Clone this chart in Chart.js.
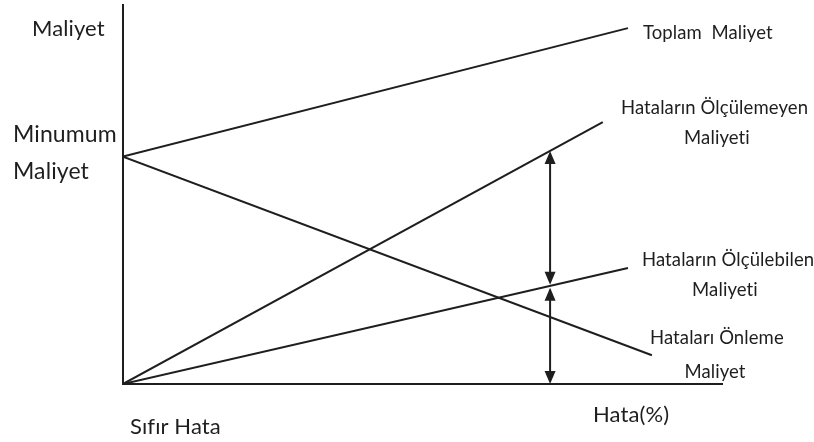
<!DOCTYPE html>
<html>
<head>
<meta charset="utf-8">
<script src="https://cdn.jsdelivr.net/npm/chart.js@4/dist/chart.umd.min.js"></script>
<style>
  html, body { margin: 0; padding: 0; background: #fff; }
  #wrap { width: 814px; height: 442px; }
</style>
</head>
<body>
<div id="wrap"><canvas id="c" width="814" height="442"></canvas></div>
<script>
// Hata oranı (%) ekseni: 0 = sıfır hata
const hataX = [0, 84.3];
const onlemeX = [0, 88.3];
const olculemeyenX = [0, 80.1];

// Maliyet değerleri (göreli)
const toplamMaliyet = [60, 93.9];
const onlemeMaliyeti = [60, 7.6];
const olculemeyenMaliyet = [0, 69.1];
const olculebilenMaliyet = [0, 30.6];

// Oklarla gösterilen hata oranı ve maliyet seviyeleri
const okHata = 71.3;
const okSeviyeleri = [0, 25.9, 61.5];

const INK = '#1e1e1e';
const FONT = 'Lato, "Open Sans", sans-serif';

function pts(xs, ys) { return xs.map((x, i) => ({ x: x, y: ys[i] })); }

function lineSet(data) {
  return { data: data, showLine: true, borderColor: INK, borderWidth: 2, pointRadius: 0, tension: 0, fill: false };
}

function arrowHead(ctx, x, y, dir) {
  // dir = -1 yukarı, +1 aşağı bakan uç
  ctx.beginPath();
  ctx.moveTo(x, y);
  ctx.lineTo(x - 5.5, y - dir * 13);
  ctx.lineTo(x + 5.5, y - dir * 13);
  ctx.closePath();
  ctx.fill();
}

const annotations = {
  id: 'annotations',
  afterDatasetsDraw(chart) {
    const ctx = chart.ctx;
    const xs = chart.scales.x, ys = chart.scales.y;
    const ax = xs.getPixelForValue(okHata);
    const lv = okSeviyeleri.map(v => ys.getPixelForValue(v));
    ctx.save();
    ctx.strokeStyle = INK;
    ctx.fillStyle = INK;
    ctx.lineWidth = 2;
    // alt ok: eksen ile ölçülebilen maliyet arası
    ctx.beginPath(); ctx.moveTo(ax, lv[0] - 4); ctx.lineTo(ax, lv[1] + 4); ctx.stroke();
    arrowHead(ctx, ax, lv[0], 1);
    arrowHead(ctx, ax, lv[1] + 2, -1);
    // üst ok: ölçülebilen ile ölçülemeyen maliyet arası
    ctx.beginPath(); ctx.moveTo(ax, lv[1] - 4); ctx.lineTo(ax, lv[2] + 4); ctx.stroke();
    arrowHead(ctx, ax, lv[1] - 1, 1);
    arrowHead(ctx, ax, lv[2], -1);

    ctx.textBaseline = 'middle';
    // "ti" bitişik harfini kapatmak için çok küçük harf aralığı
    if ('letterSpacing' in ctx) ctx.letterSpacing = '0.1px';
    const label = (text, x, y, size, align) => {
      ctx.font = size + 'px ' + FONT;
      ctx.textAlign = align || 'left';
      ctx.fillText(text, x, y);
    };
    label('Maliyet', 32, 29, 22);
    label('Minumum', 13, 135, 23);
    label('Maliyet', 13, 172, 23);
    label('Sıfır Hata', 130, 427, 22);
    label('Hata(%)', 593, 415, 22);
    label('Toplam  Maliyet', 643, 33, 18.5);
    label('Hataların Ölçülemeyen', 621, 108, 18.5);
    label('Maliyeti', 717, 138, 18.5, 'center');
    label('Hataların Ölçülebilen', 642, 260, 18.5);
    label('Maliyeti', 725, 290, 18.5, 'center');
    label('Hataları Önleme', 650, 338, 18.5);
    label('Maliyet', 715, 372, 18.5, 'center');
    ctx.restore();
  }
};

new Chart(document.getElementById('c'), {
  type: 'scatter',
  data: {
    datasets: [
      lineSet(pts(hataX, toplamMaliyet)),
      lineSet(pts(onlemeX, onlemeMaliyeti)),
      lineSet(pts(olculemeyenX, olculemeyenMaliyet)),
      lineSet(pts(hataX, olculebilenMaliyet))
    ]
  },
  options: {
    responsive: false,
    animation: false,
    layout: { padding: { left: 123, top: 5, right: 92, bottom: 58 } },
    plugins: { legend: { display: false }, tooltip: { enabled: false } },
    scales: {
      x: {
        type: 'linear', min: 0, max: 100,
        grid: { display: false, drawTicks: false },
        ticks: { display: false },
        border: { display: true, color: INK, width: 2 }
      },
      y: {
        type: 'linear', min: 0, max: 100,
        grid: { display: false, drawTicks: false },
        ticks: { display: false },
        border: { display: true, color: INK, width: 2 }
      }
    }
  },
  plugins: [annotations]
});
</script>
</body>
</html>
